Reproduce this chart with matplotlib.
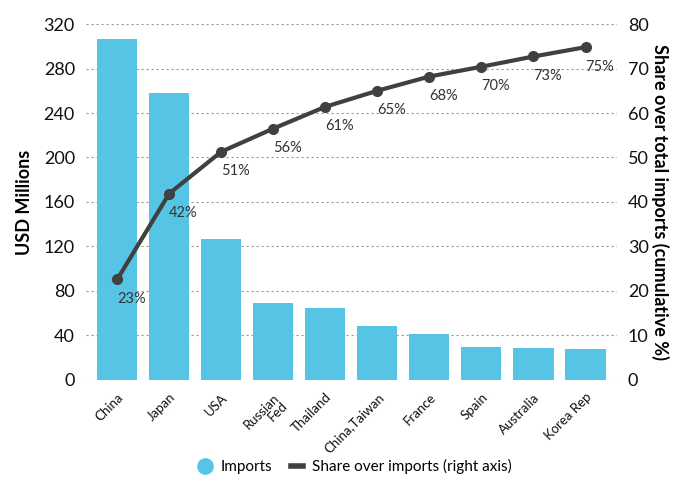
import matplotlib
matplotlib.use("Agg")
import matplotlib.pyplot as plt
from matplotlib.lines import Line2D
import numpy as np

countries = ["China", "Japan", "USA", "Russian\nFed", "Thailand",
             "China,Taiwan", "France", "Spain", "Australia", "Korea Rep"]
imports = [306.5, 258.3, 126.7, 69.5, 65.0, 48.5, 41.6, 29.7, 29.0, 28.1]
share = [22.6, 41.9, 51.3, 56.5, 61.4, 65.0, 68.2, 70.4, 72.7, 74.8]
share_labels = ["23%", "42%", "51%", "56%", "61%", "65%", "68%", "70%", "73%", "75%"]

bar_color = "#56c5e5"
line_color = "#404040"

plt.rcParams['font.family'] = ['Lato', 'DejaVu Sans']

fig = plt.figure(figsize=(6.77, 4.94), dpi=100)
ax = fig.add_axes([0.127, 0.2308, 0.784, 0.7206])
ax2 = ax.twinx()

x = np.arange(len(countries))
ax.bar(x, imports, width=0.77, color=bar_color, zorder=2)
ax.set_xlim(-0.6, len(countries) - 0.4)
ax.set_ylim(0, 320)
ax.set_yticks(np.arange(0, 321, 40))
ax.grid(axis='y', linestyle=(0, (2, 2.5)), color='#999999', linewidth=0.8, zorder=0)
ax.set_axisbelow(True)

ax2.plot(x, share, color=line_color, linewidth=3, marker='o', markersize=7, zorder=3)
for xi, yi, lab in zip(x, share, share_labels):
    ax2.annotate(lab, (xi, yi), xytext=(0, -9), textcoords='offset points',
                 ha='left', va='top', fontsize=10.5, color='#333333')
ax2.set_ylim(0, 80)
ax2.set_yticks(np.arange(0, 81, 10))

for a in (ax, ax2):
    for s in a.spines.values():
        s.set_visible(False)
    a.tick_params(length=0, labelsize=13, colors='#111111')

ax.set_xticks(x)
ax.set_xticklabels(countries, rotation=45, ha='right', rotation_mode='anchor',
                   fontsize=9.5, linespacing=0.95)
ax.tick_params(axis='x', pad=8)
ax.tick_params(axis='y', pad=8)
ax2.tick_params(axis='y', pad=8)

ax.set_ylabel("USD Millions", fontsize=13, fontweight='bold', labelpad=8)
ax2.set_ylabel("Share over total imports (cumulative %)", fontsize=13,
               fontweight='bold', rotation=270, labelpad=15)

handles = [Line2D([], [], marker='o', linestyle='none', color=bar_color, markersize=11),
           Line2D([], [], color=line_color, linewidth=4)]
fig.legend(handles, ["Imports", "Share over imports (right axis)"],
           loc='center', bbox_to_anchor=(0.525, 0.055), ncol=2, frameon=False,
           fontsize=11, handlelength=0.8, handletextpad=0.6, columnspacing=1.2)

fig.savefig("out.png", dpi=100)
